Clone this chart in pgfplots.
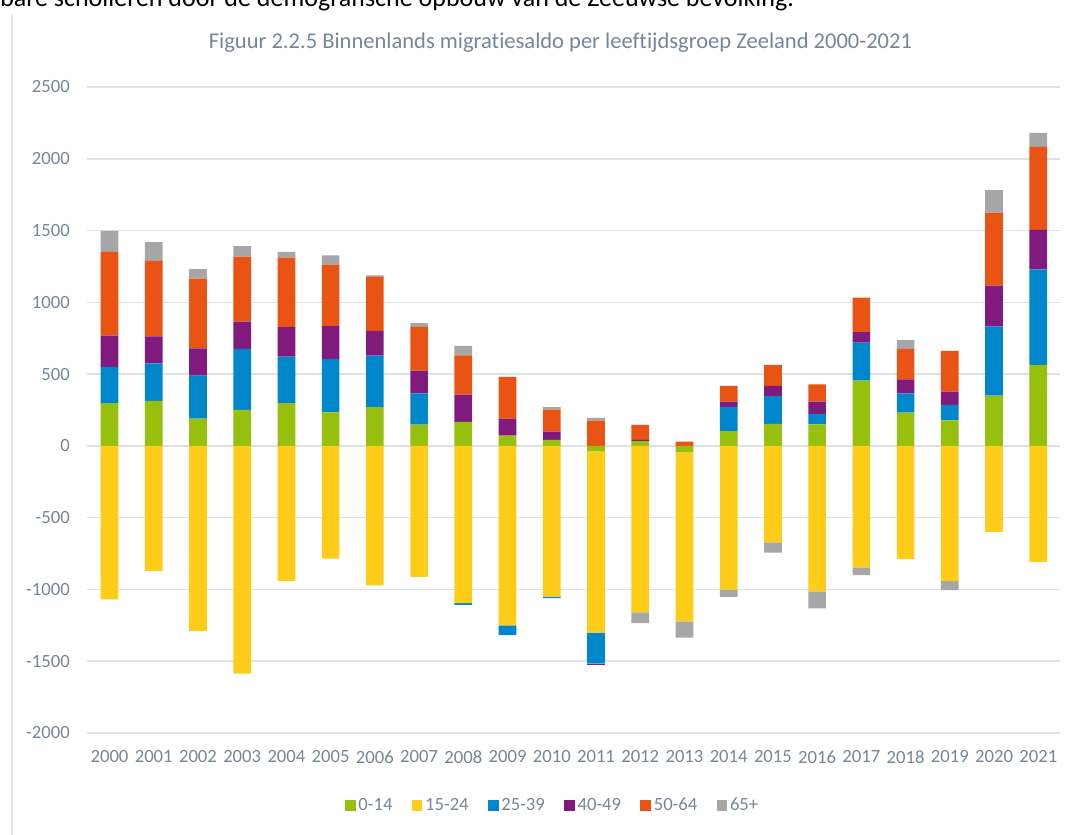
\documentclass[border=0pt]{standalone}
\usepackage{fontspec}
\setmainfont{Carlito}[Ligatures=NoCommon]
\usepackage{pgfplots}
\usepackage{pgfplotstable}
\pgfplotsset{compat=1.18}
\definecolor{cA}{RGB}{151,191,13}
\definecolor{cB}{RGB}{255,204,26}
\definecolor{cC}{RGB}{0,135,203}
\definecolor{cD}{RGB}{128,27,125}
\definecolor{cE}{RGB}{233,83,20}
\definecolor{cF}{RGB}{166,166,166}
\definecolor{txt}{RGB}{118,134,153}
\definecolor{gridc}{RGB}{222,226,231}
% positive parts of each age group's balance
\pgfplotstableread{
idx g y b p o gr
0 297 0 253 218 584 146
1 313 0 262 188 525 132
2 190 0 300 190 485 67
3 251 0 424 190 453 74
4 297 0 325 206 483 41
5 234 0 371 230 427 65
6 270 0 358 174 376 10
7 148 0 218 159 304 26
8 167 0 0 190 273 67
9 72 0 0 118 290 0
10 41 0 0 58 153 18
11 0 0 0 0 176 19
12 33 0 0 8 105 0
13 0 0 0 0 30 0
14 103 0 167 39 109 0
15 153 0 193 72 146 0
16 149 0 72 88 120 0
17 455 0 264 74 239 0
18 232 0 134 98 211 61
19 178 0 107 93 283 0
20 350 0 482 285 508 157
21 564 0 665 276 578 98
}\pos
% negative parts
\pgfplotstableread{
idx g y b p o gr
0 0 -1070 0 0 0 0
1 0 -870 0 0 0 0
2 0 -1288 0 0 0 0
3 0 -1587 0 0 0 0
4 0 -940 0 0 0 0
5 0 -786 0 0 0 0
6 0 -972 0 0 0 0
7 0 -913 0 0 0 0
8 0 -1095 -12 0 0 0
9 0 -1250 -68 0 0 0
10 0 -1050 -10 0 0 0
11 -38 -1262 -217 -5 0 0
12 0 -1160 0 0 0 -74
13 -45 -1177 0 0 0 -114
14 0 -1002 0 0 0 -50
15 0 -673 0 0 0 -70
16 0 -1014 0 0 0 -118
17 0 -846 0 0 0 -54
18 0 -789 0 0 0 0
19 0 -940 0 0 0 -65
20 0 -599 0 0 0 0
21 0 -808 0 0 0 0
}\negt
\pgfplotsset{
  base/.style={
    at={(0pt,0pt)}, anchor=south west, scale only axis,
    width=729.75pt, height=484.5pt,
    xmin=-0.5, xmax=21.5, ymin=-2000, ymax=2500,
    ybar stacked, bar width=0.4,
  },
}
\begin{document}
\begin{tikzpicture}
\path[use as bounding box] (-65.55pt,-76.5pt) rectangle (741.45pt,549.75pt);
\draw[gridc, line width=0.9pt] (-56.5pt,-76.5pt) -- (-56.5pt,538.5pt);
\node[anchor=base west, inner sep=0pt, font=\fontsize{19.5}{22}\selectfont, text=black] at (-65.55pt,544.5pt) {bare scholieren door de demografische opbouw van de Zeeuwse bevolking.};
\begin{axis}[base,
  axis line style={draw=none},
  major tick style={draw=none}, minor tick style={draw=none},
  xmajorgrids=false, ymajorgrids=true,
  major grid style={draw=gridc, line width=1.1pt},
  ytick={-2000,-1500,...,2500},
  xtick={0,...,21},
  xticklabels={2000,2001,2002,2003,2004,2005,2006,2007,2008,2009,2010,2011,2012,2013,2014,2015,2016,2017,2018,2019,2020,2021},
  /pgf/number format/assume math mode=true,
  /pgf/number format/1000 sep={},
  ticklabel style={font=\fontsize{14}{16}\selectfont, text=txt},
  yticklabel style={anchor=east, inner sep=0pt, xshift=-13pt},
  xticklabel style={anchor=north, inner sep=0pt, yshift=-13pt},
  title={Figuur 2.2.5 Binnenlands migratiesaldo per leeftijdsgroep Zeeland 2000-2021},
  title style={font=\fontsize{16.9}{19}\selectfont, text=txt, at={(0.4862,1)}, anchor=base, yshift=23pt},
  legend style={at={(0.4785,-0.1122)}, anchor=center, draw=none, fill=none,
    legend columns=-1, font=\fontsize{14}{16}\selectfont, text=txt,
    /tikz/every even column/.append style={column sep=12.5pt},
    legend cell align=left, inner sep=0pt},
  legend image code/.code={\fill[#1] (0pt,-4pt) rectangle (8pt,4pt);},
]
\addplot[fill=cA, draw=none] table[x=idx, y=g] {\pos};
\addplot[fill=cB, draw=none] table[x=idx, y=y] {\pos};
\addplot[fill=cC, draw=none] table[x=idx, y=b] {\pos};
\addplot[fill=cD, draw=none] table[x=idx, y=p] {\pos};
\addplot[fill=cE, draw=none] table[x=idx, y=o] {\pos};
\addplot[fill=cF, draw=none] table[x=idx, y=gr] {\pos};
\legend{0-14,15-24,25-39,40-49,50-64,65+}
\end{axis}
\begin{axis}[base, hide axis]
\addplot[fill=cA, draw=none] table[x=idx, y=g] {\negt};
\addplot[fill=cB, draw=none] table[x=idx, y=y] {\negt};
\addplot[fill=cC, draw=none] table[x=idx, y=b] {\negt};
\addplot[fill=cD, draw=none] table[x=idx, y=p] {\negt};
\addplot[fill=cE, draw=none] table[x=idx, y=o] {\negt};
\addplot[fill=cF, draw=none] table[x=idx, y=gr] {\negt};
\end{axis}
\end{tikzpicture}
\end{document}
